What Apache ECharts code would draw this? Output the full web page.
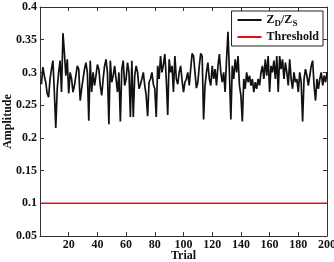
<!DOCTYPE html>
<html>
<head>
<meta charset="utf-8">
<script src="https://cdn.jsdelivr.net/npm/echarts@6/dist/echarts.min.js"></script>
<style>
  html, body { margin: 0; padding: 0; background: #fff; }
  #main { width: 334px; height: 262px; }
</style>
</head>
<body>
<div id="main"></div>
<script>
// Z_D/Z_S amplitude per trial
var ratio = [
  0.282, 0.308, 0.295, 0.285, 0.268, 0.262, 0.290, 0.305, 0.318, 0.270,
  0.215, 0.275, 0.300, 0.318, 0.270, 0.360, 0.330, 0.295, 0.320, 0.268,
  0.300, 0.290, 0.270, 0.280, 0.295, 0.310, 0.305, 0.257, 0.275, 0.290,
  0.305, 0.315, 0.300, 0.226, 0.318, 0.270, 0.300, 0.280, 0.295, 0.312,
  0.305, 0.280, 0.265, 0.290, 0.310, 0.320, 0.300, 0.221, 0.318, 0.285,
  0.295, 0.310, 0.290, 0.270, 0.300, 0.225, 0.305, 0.318, 0.280, 0.290,
  0.315, 0.300, 0.232, 0.318, 0.232, 0.295, 0.310, 0.300, 0.275, 0.282,
  0.290, 0.300, 0.280, 0.265, 0.233, 0.285, 0.290, 0.300, 0.282, 0.275,
  0.232, 0.310, 0.290, 0.325, 0.300, 0.312, 0.328, 0.290, 0.235, 0.320,
  0.300, 0.310, 0.270, 0.325, 0.290, 0.282, 0.300, 0.310, 0.288, 0.270,
  0.285, 0.290, 0.300, 0.280, 0.305, 0.329, 0.325, 0.300, 0.276, 0.285,
  0.310, 0.329, 0.325, 0.228, 0.280, 0.300, 0.315, 0.290, 0.280, 0.310,
  0.290, 0.305, 0.280, 0.310, 0.328, 0.300, 0.285, 0.300, 0.270, 0.320,
  0.362, 0.300, 0.228, 0.310, 0.290, 0.320, 0.300, 0.325, 0.280, 0.265,
  0.225, 0.290, 0.275, 0.300, 0.285, 0.295, 0.280, 0.290, 0.270, 0.285,
  0.275, 0.290, 0.280, 0.300, 0.310, 0.290, 0.320, 0.295, 0.325, 0.270,
  0.310, 0.300, 0.318, 0.290, 0.325, 0.270, 0.325, 0.305, 0.320, 0.290,
  0.315, 0.300, 0.280, 0.320, 0.290, 0.275, 0.300, 0.285, 0.290, 0.270,
  0.300, 0.285, 0.225, 0.290, 0.305, 0.295, 0.280, 0.295, 0.310, 0.318,
  0.280, 0.257, 0.290, 0.275, 0.290, 0.300, 0.280, 0.295, 0.285, 0.300
];
var threshold = 0.1;
var xTicks = [20, 40, 60, 80, 100, 120, 140, 160, 180, 200];
var yTicks = [0.05, 0.1, 0.15, 0.2, 0.25, 0.3, 0.35, 0.4];

var ratioData = ratio.map(function (v, i) { return [i + 1, v]; });
var thrData = [[1, threshold], [ratio.length, threshold]];

var font = 'Liberation Serif';
var axisCol = '#333';

function baseX(pos, showLabel) {
  return {
    type: 'value', position: pos, min: 0, max: 200, interval: 20,
    axisLine: { show: true, onZero: false, lineStyle: { color: axisCol, width: 1 } },
    axisTick: { show: true, inside: true, length: 4, lineStyle: { color: axisCol } },
    splitLine: { show: false },
    axisLabel: {
      show: showLabel, color: '#111', fontFamily: font, fontWeight: 'bold', fontSize: 12, margin: 3,
      formatter: function (v) { return xTicks.indexOf(v) >= 0 ? String(v) : ''; }
    }
  };
}
function baseY(pos, showLabel) {
  return {
    type: 'value', position: pos, min: yTicks[0], max: yTicks[yTicks.length - 1], interval: 0.05,
    axisLine: { show: true, onZero: false, lineStyle: { color: axisCol, width: 1 } },
    axisTick: { show: true, inside: true, length: 4, lineStyle: { color: axisCol } },
    splitLine: { show: false },
    axisLabel: {
      show: showLabel, color: '#111', fontFamily: font, fontWeight: 'bold', fontSize: 12, margin: 3,
      formatter: function (v) { return String(parseFloat(v.toFixed(2))); }
    }
  };
}

var xb = baseX('bottom', true);
xb.name = 'Trial';
xb.nameLocation = 'middle';
xb.nameGap = 14;
xb.nameMoveOverlap = false;
xb.nameTextStyle = { fontFamily: font, fontWeight: 'bold', fontSize: 12, color: '#111', verticalAlign: 'top' };
var yl = baseY('left', true);
yl.name = 'Amplitude';
yl.nameLocation = 'middle';
yl.nameGap = 26;
yl.nameMoveOverlap = false;
yl.nameTextStyle = { fontFamily: font, fontWeight: 'bold', fontSize: 12, color: '#111' };

var chart = echarts.init(document.getElementById('main'));
chart.setOption({
  animation: false,
  backgroundColor: '#fff',
  grid: { left: 40, right: 7, top: 7, bottom: 26, containLabel: false, outerBoundsMode: 'none' },
  xAxis: [xb, baseX('top', false)],
  yAxis: [yl, baseY('right', false)],
  legend: {
    orient: 'vertical', right: 11, top: 11,
    backgroundColor: '#fff', borderColor: '#222', borderWidth: 1,
    padding: [3, 4, 3, 6], itemGap: 3, itemWidth: 24, itemHeight: 10,
    icon: 'path://M0,4L24,4L24,6L0,6Z',
    data: ['ratio', 'Threshold'],
    formatter: function (name) {
      if (name === 'ratio') return '{n|Z}{s|D}{n|/Z}{s|S}';
      return '{n|' + name + '}';
    },
    textStyle: {
      fontFamily: font, fontWeight: 'bold', fontSize: 12, color: '#111',
      rich: {
        n: { fontFamily: font, fontWeight: 'bold', fontSize: 12, color: '#111', lineHeight: 16, verticalAlign: 'middle' },
        s: { fontFamily: font, fontWeight: 'bold', fontSize: 9, color: '#111', lineHeight: 16, verticalAlign: 'bottom', padding: [5, 0, 0, 0] }
      }
    }
  },
  series: [
    {
      name: 'ratio', type: 'line', data: ratioData, showSymbol: false, symbol: 'none',
      itemStyle: { color: '#111' },
      lineStyle: { color: '#111', width: 1.7 }
    },
    {
      name: 'Threshold', type: 'line', data: thrData, showSymbol: false, symbol: 'none',
      itemStyle: { color: '#e01020' },
      lineStyle: { color: '#e01020', width: 1.5 }
    }
  ]
});
</script>
</body>
</html>
